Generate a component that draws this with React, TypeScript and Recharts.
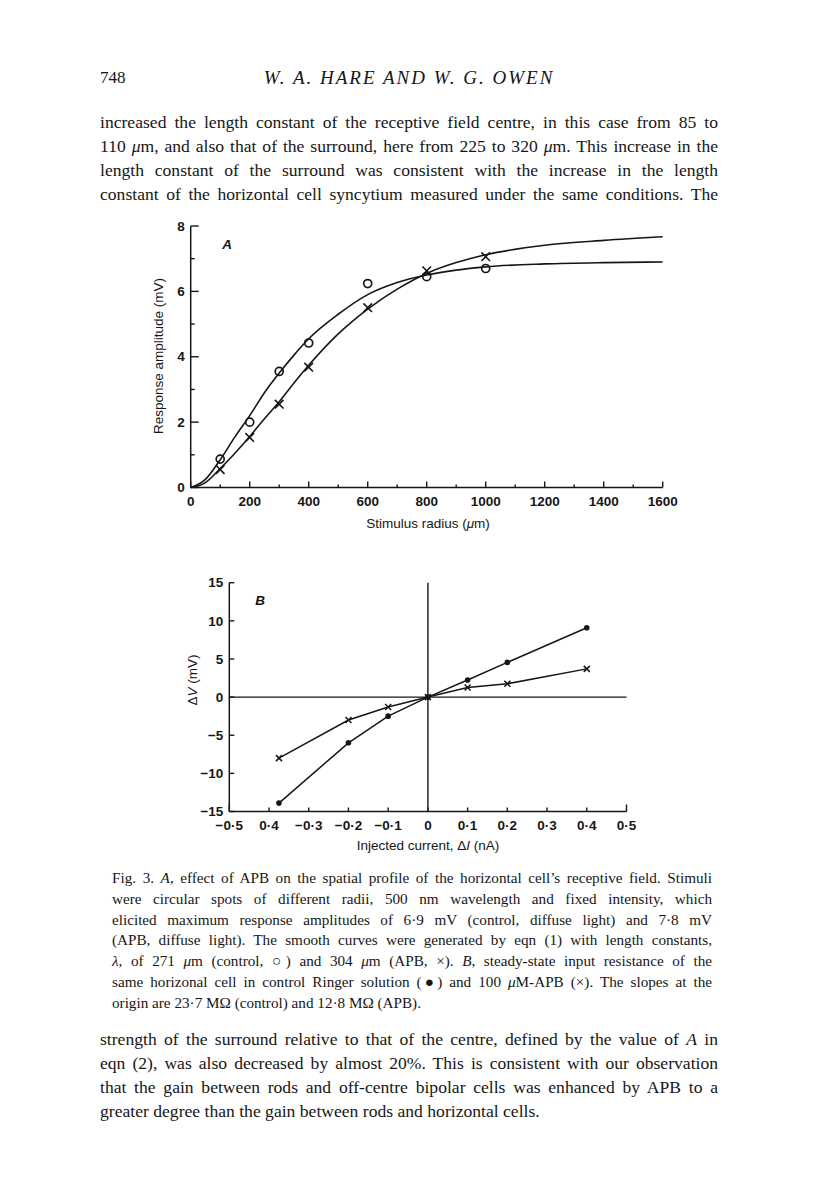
import React from 'react'
import {
  ComposedChart,
  LineChart,
  Line,
  Scatter,
  XAxis,
  YAxis,
  ReferenceLine,
} from 'recharts'

// Fig. 3A: response amplitude against stimulus radius
const radiusGrid = [0, 50, 100, 150, 200, 250, 300, 350, 400, 500, 600, 700, 800, 900, 1000, 1200, 1400, 1600]
const controlCurve = [0, 0.25, 0.85, 1.55, 2.2, 2.9, 3.5, 4.05, 4.55, 5.3, 5.9, 6.27, 6.5, 6.65, 6.75, 6.84, 6.88, 6.9]
const apbCurve = [0, 0.15, 0.58, 1.05, 1.56, 2.1, 2.62, 3.2, 3.74, 4.7, 5.46, 6.07, 6.55, 6.88, 7.12, 7.41, 7.56, 7.67]

const radiusPts = [100, 200, 300, 400, 600, 800, 1000]
const controlPts = [0.87, 2.0, 3.55, 4.42, 6.24, 6.45, 6.7]
const apbPts = [0.55, 1.53, 2.55, 3.68, 5.5, 6.63, 7.06]

const radiusTicks = [0, 100, 200, 300, 400, 500, 600, 700, 800, 900, 1000, 1100, 1200, 1300, 1400, 1500, 1600]
const amplitudeTicks = [0, 1, 2, 3, 4, 5, 6, 7, 8]

// Fig. 3B: current-voltage relation
const currentB = [-0.375, -0.2, -0.1, 0, 0.1, 0.2, 0.4]
const controlB = [-13.9, -6.0, -2.5, 0, 2.25, 4.55, 9.1]
const apbB = [-8.0, -3.0, -1.3, 0, 1.25, 1.75, 3.7]

const currentTicks = [-0.5, -0.4, -0.3, -0.2, -0.1, 0, 0.1, 0.2, 0.3, 0.4, 0.5]
const currentLabels = ['−0·5', '0·4', '−0·3', '−0·2', '−0·1', '0', '0·1', '0·2', '0·3', '0·4', '0·5']
const voltageTicks = [-15, -10, -5, 0, 5, 10, 15]
const voltageLabels = ['−15', '−10', '−5', '0', '5', '10', '15']

const curveRows = radiusGrid.map((r, i) => ({ r, control: controlCurve[i], apb: apbCurve[i] }))
const pointRows = radiusPts.map((r, i) => ({ r, control: controlPts[i], apb: apbPts[i] }))
const ivRows = currentB.map((i, k) => ({ i, control: controlB[k], apb: apbB[k] }))

const INK = '#161616'
const SANS = '"Liberation Sans", Arial, Helvetica, sans-serif'
const SERIF = '"Liberation Serif", "Times New Roman", serif'

const tickText = {
  fontFamily: SANS,
  fontSize: 13.5,
  fontWeight: 700,
  fill: INK,
}

// ticks point into the plot, labels only on major ticks
const RadiusTick = (props: any) => {
  const { x, y, payload } = props
  const major = payload.value % 200 === 0
  return (
    <g>
      <line x1={x} y1={y} x2={x} y2={y - (major ? 6 : 3)} stroke={INK} strokeWidth={1.4} />
      {major && (
        <text x={x} y={y + 14} dy="0.35em" textAnchor="middle" {...tickText}>
          {payload.value}
        </text>
      )}
    </g>
  )
}

const AmplitudeTick = (props: any) => {
  const { x, y, payload } = props
  const major = payload.value % 2 === 0
  return (
    <g>
      <line x1={x} y1={y} x2={x + (major ? 8 : 4)} y2={y} stroke={INK} strokeWidth={1.4} />
      {major && (
        <text x={x - 6} y={y} dy="0.35em" textAnchor="end" {...tickText}>
          {payload.value}
        </text>
      )}
    </g>
  )
}

const CurrentTick = (props: any) => {
  const { x, y, index } = props
  const end = index === 0 || index === currentTicks.length - 1
  return (
    <g>
      <line x1={x} y1={y} x2={x} y2={y - (end ? 7 : 4)} stroke={INK} strokeWidth={1.4} />
      <text x={x} y={y + 14} dy="0.35em" textAnchor="middle" {...tickText}>
        {currentLabels[index]}
      </text>
    </g>
  )
}

const VoltageTick = (props: any) => {
  const { x, y, index } = props
  return (
    <g>
      <line x1={x} y1={y} x2={x + 5} y2={y} stroke={INK} strokeWidth={1.4} />
      <text x={x - 6} y={y} dy="0.35em" textAnchor="end" {...tickText}>
        {voltageLabels[index]}
      </text>
    </g>
  )
}

const OpenCircle = (props: any) => {
  if (props.cx == null) return null
  return <circle cx={props.cx} cy={props.cy} r={4} fill="none" stroke={INK} strokeWidth={1.7} />
}

function crossAt(cx: number, cy: number, arm: number, w: number) {
  return (
    <g>
      <line x1={cx - arm} y1={cy - arm} x2={cx + arm} y2={cy + arm} stroke={INK} strokeWidth={w} />
      <line x1={cx - arm} y1={cy + arm} x2={cx + arm} y2={cy - arm} stroke={INK} strokeWidth={w} />
    </g>
  )
}

const BigCross = (props: any) => {
  if (props.cx == null) return null
  return crossAt(props.cx, props.cy, 4.3, 1.6)
}

const SmallCross = (props: any) => {
  if (props.cx == null) return null
  return crossAt(props.cx, props.cy, 3, 1.5)
}

const FilledDot = (props: any) => {
  if (props.cx == null) return null
  return <circle cx={props.cx} cy={props.cy} r={2.8} fill={INK} stroke="none" />
}

const abs = (left: number, top: number): React.CSSProperties => ({
  position: 'absolute',
  left,
  top,
})

function TextLine({ children, last }: { children: React.ReactNode; last?: boolean }) {
  return (
    <div style={{ textAlign: 'justify', textAlignLast: last ? 'left' : 'justify' }}>{children}</div>
  )
}

function FigureA() {
  return (
    <div style={abs(120, 210)}>
      <ComposedChart
        width={580}
        height={330}
        data={curveRows}
        margin={{ top: 16, right: 37.3, bottom: 22.5, left: 30.7 }}
      >
        <XAxis
          dataKey="r"
          type="number"
          domain={[0, 1600]}
          ticks={radiusTicks}
          interval={0}
          height={30}
          tickSize={0}
          tickMargin={0}
          tickLine={false}
          axisLine={{ stroke: INK, strokeWidth: 1.5 }}
          tick={<RadiusTick />}
        />
        <YAxis
          type="number"
          domain={[0, 8]}
          ticks={amplitudeTicks}
          interval={0}
          width={40}
          tickSize={0}
          tickMargin={0}
          tickLine={false}
          axisLine={{ stroke: INK, strokeWidth: 1.5 }}
          tick={<AmplitudeTick />}
        />
        <Line
          type="monotone"
          dataKey="control"
          stroke={INK}
          strokeWidth={1.6}
          dot={false}
          isAnimationActive={false}
        />
        <Line
          type="monotone"
          dataKey="apb"
          stroke={INK}
          strokeWidth={1.6}
          dot={false}
          isAnimationActive={false}
        />
        <Scatter data={pointRows} dataKey="control" shape={<OpenCircle />} isAnimationActive={false} />
        <Scatter data={pointRows} dataKey="apb" shape={<BigCross />} isAnimationActive={false} />
      </ComposedChart>
    </div>
  )
}

function FigureB() {
  return (
    <div style={abs(150, 565)}>
      <LineChart
        width={510}
        height={290}
        data={ivRows}
        margin={{ top: 17.7, right: 33.5, bottom: 13.5, left: 39.3 }}
      >
        <XAxis
          dataKey="i"
          type="number"
          domain={[-0.5, 0.5]}
          ticks={currentTicks}
          interval={0}
          height={30}
          tickSize={0}
          tickMargin={0}
          tickLine={false}
          axisLine={{ stroke: INK, strokeWidth: 1.5 }}
          tick={<CurrentTick />}
        />
        <YAxis
          type="number"
          domain={[-15, 15]}
          ticks={voltageTicks}
          interval={0}
          width={40}
          tickSize={0}
          tickMargin={0}
          tickLine={false}
          axisLine={{ stroke: INK, strokeWidth: 1.5 }}
          tick={<VoltageTick />}
        />
        <ReferenceLine y={0} stroke={INK} strokeWidth={1.4} />
        <ReferenceLine x={0} stroke={INK} strokeWidth={1.4} />
        <Line
          type="linear"
          dataKey="control"
          stroke={INK}
          strokeWidth={1.5}
          dot={<FilledDot />}
          isAnimationActive={false}
        />
        <Line
          type="linear"
          dataKey="apb"
          stroke={INK}
          strokeWidth={1.5}
          dot={<SmallCross />}
          isAnimationActive={false}
        />
      </LineChart>
    </div>
  )
}

const axisTitle: React.CSSProperties = {
  position: 'absolute',
  fontFamily: SANS,
  fontSize: 13.5,
  color: INK,
  whiteSpace: 'nowrap',
  transform: 'translate(-50%, -50%)',
}

export default function App() {
  return (
    <div
      style={{
        position: 'absolute',
        left: 0,
        top: 0,
        width: 816,
        height: 1203,
        background: '#fff',
        color: INK,
        fontFamily: SERIF,
        overflow: 'hidden',
      }}
    >
      {/* running head */}
      <div style={{ ...abs(100, 66), fontSize: 17, lineHeight: '24px' }}>748</div>
      <div
        style={{
          ...abs(409, 78),
          transform: 'translate(-50%, -50%)',
          fontSize: 19,
          letterSpacing: 2,
          fontStyle: 'italic',
          whiteSpace: 'nowrap',
        }}
      >
        W. A. HARE AND W. G. OWEN
      </div>

      <div style={{ ...abs(100, 110), width: 618, fontSize: 17.6, lineHeight: '24px' }}>
        <TextLine>increased the length constant of the receptive field centre, in this case from 85 to</TextLine>
        <TextLine>
          110 <i>μ</i>m, and also that of the surround, here from 225 to 320 <i>μ</i>m. This increase in the
        </TextLine>
        <TextLine>length constant of the surround was consistent with the increase in the length</TextLine>
        <TextLine>constant of the horizontal cell syncytium measured under the same conditions. The</TextLine>
      </div>

      <FigureA />
      <div style={{ ...axisTitle, left: 157.5, top: 356, transform: 'translate(-50%, -50%) rotate(-90deg)' }}>
        Response amplitude (mV)
      </div>
      <div style={{ ...axisTitle, left: 428, top: 523 }}>
        Stimulus radius (<i>μ</i>m)
      </div>
      <div style={{ ...axisTitle, left: 227, top: 244, fontWeight: 700, fontStyle: 'italic' }}>A</div>

      <FigureB />
      <div style={{ ...axisTitle, left: 192, top: 680, transform: 'translate(-50%, -50%) rotate(-90deg)' }}>
        Δ<i>V</i> (mV)
      </div>
      <div style={{ ...axisTitle, left: 428, top: 845 }}>
        Injected current, Δ<i>I</i> (nA)
      </div>
      <div style={{ ...axisTitle, left: 260, top: 600, fontWeight: 700, fontStyle: 'italic' }}>B</div>

      <div style={{ ...abs(112, 868), width: 600, fontSize: 15.2, lineHeight: '20.8px' }}>
        <TextLine>
          Fig. 3. <i>A</i>, effect of APB on the spatial profile of the horizontal cell’s receptive field. Stimuli
        </TextLine>
        <TextLine>were circular spots of different radii, 500 nm wavelength and fixed intensity, which</TextLine>
        <TextLine>elicited maximum response amplitudes of 6·9 mV (control, diffuse light) and 7·8 mV</TextLine>
        <TextLine>(APB, diffuse light). The smooth curves were generated by eqn (1) with length constants,</TextLine>
        <TextLine>
          <i>λ</i>, of 271 <i>μ</i>m (control, ○) and 304 <i>μ</i>m (APB, ×). <i>B</i>, steady-state input resistance of the
        </TextLine>
        <TextLine>
          same horizonal cell in control Ringer solution (●) and 100 <i>μ</i>M-APB (×). The slopes at the
        </TextLine>
        <TextLine last>origin are 23·7 MΩ (control) and 12·8 MΩ (APB).</TextLine>
      </div>

      <div style={{ ...abs(100, 1027), width: 618, fontSize: 17.6, lineHeight: '24px' }}>
        <TextLine>
          strength of the surround relative to that of the centre, defined by the value of <i>A</i> in
        </TextLine>
        <TextLine>eqn (2), was also decreased by almost 20%. This is consistent with our observation</TextLine>
        <TextLine>that the gain between rods and off-centre bipolar cells was enhanced by APB to a</TextLine>
        <TextLine last>greater degree than the gain between rods and horizontal cells.</TextLine>
      </div>
    </div>
  )
}
